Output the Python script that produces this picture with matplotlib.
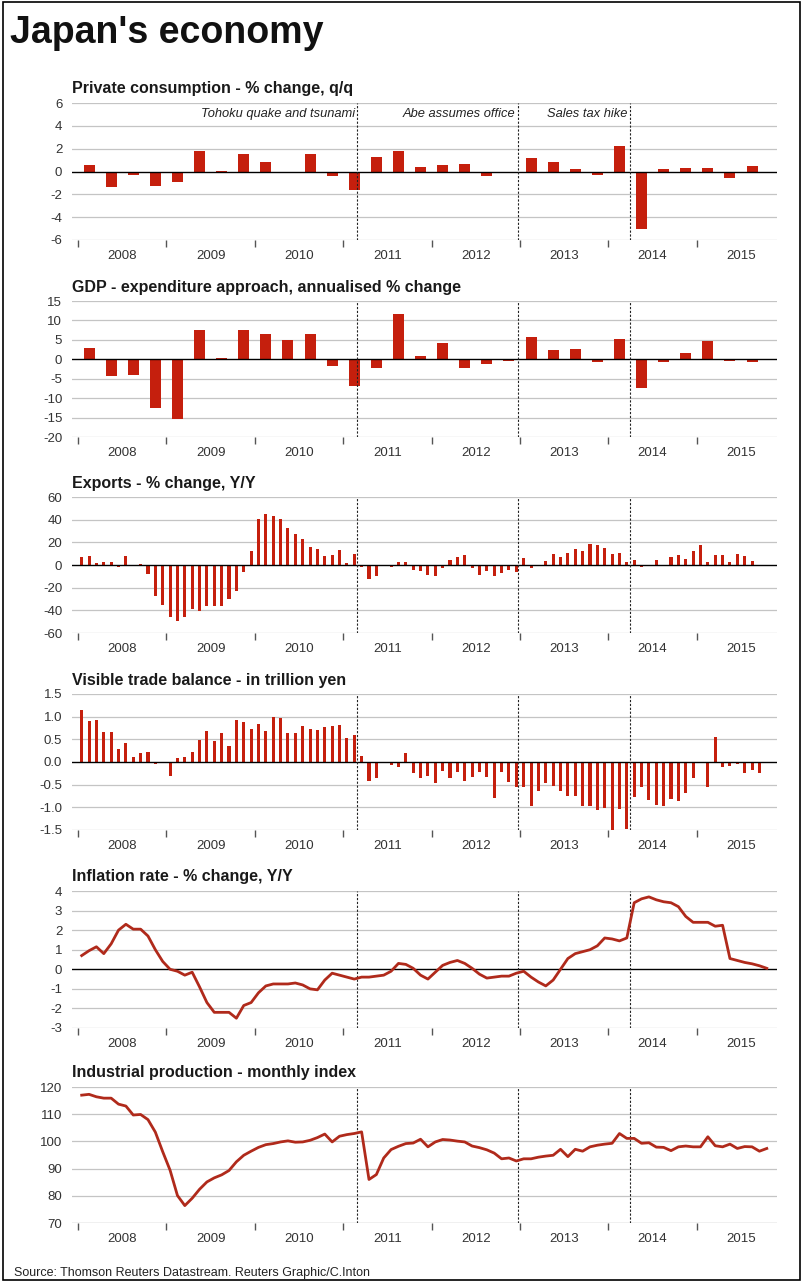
import numpy as np
import matplotlib.pyplot as plt

plt.rcParams['font.family'] = ['Liberation Sans', 'DejaVu Sans']

# quarterly series, 2008 Q1 .. 2015 Q3
consumption = [0.6, -1.4, -0.3, -1.3,
               -0.9, 1.8, 0.05, 1.5,
               0.8, 0.0, 1.5, -0.4,
               -1.6, 1.25, 1.8, 0.4,
               0.6, 0.7, -0.4, 0.0,
               1.2, 0.8, 0.25, -0.3,
               2.2, -5.0, 0.2, 0.35,
               0.35, -0.6, 0.5]
gdp = [2.8, -4.4, -4.1, -12.6,
       -15.3, 7.5, 0.3, 7.5,
       6.5, 4.9, 6.5, -1.6,
       -6.8, -2.2, 11.6, 0.8,
       4.3, -2.2, -1.2, -0.5,
       5.8, 2.3, 2.7, -0.6,
       5.2, -7.4, -0.8, 1.6,
       4.8, -0.5, -0.8]

# monthly series from Jan 2008
exports = [7, 8, 2, 3, 3, -2, 8, 0.3, 1, -8, -27, -35,
           -46, -49, -46, -39, -41, -36, -36, -36, -30, -23, -6, 12,
           41, 45, 43.5, 40.5, 32.5, 27.5, 23, 15.5, 14.5, 7.8, 9, 13,
           1.4, 9.5, -1.5, -12, -10, -0.8, -2, 3, 2.4, -4, -5.6, -9,
           -10, -2.6, 4.7, 6.8, 8.5, -2.3, -9, -5.6, -10, -7, -4, -5.8,
           6, -3, 0.3, 3.8, 9.7, 7, 11, 14, 12, 18.5, 17.4, 15,
           9.7, 10.6, 2.4, 4.7, -2, -1.2, 4, -1.3, 6.8, 9, 5.3, 12.6,
           17.4, 2.4, 8.5, 8.5, 2.4, 9.7, 8.2, 3.8]
trade_balance = [1.14, 0.9, 0.93, 0.67, 0.67, 0.29, 0.42, 0.11, 0.19, 0.21, -0.05, 0.01,
                 -0.3, 0.08, 0.11, 0.23, 0.49, 0.68, 0.46, 0.64, 0.36, 0.92, 0.89, 0.73,
                 0.84, 0.69, 0.99, 0.98, 0.65, 0.65, 0.8, 0.73, 0.71, 0.78, 0.8, 0.82,
                 0.53, 0.59, 0.14, -0.43, -0.36, -0.03, -0.07, -0.12, 0.2, -0.25, -0.36, -0.3,
                 -0.47, -0.19, -0.36, -0.23, -0.41, -0.32, -0.23, -0.34, -0.8, -0.23, -0.44, -0.56,
                 -0.56, -0.96, -0.64, -0.47, -0.54, -0.65, -0.75, -0.74, -0.96, -0.96, -1.05, -1.02,
                 -1.5, -1.03, -1.48, -0.77, -0.56, -0.83, -0.94, -0.98, -0.81, -0.86, -0.69, -0.36,
                 -0.01, -0.55, 0.55, -0.11, -0.09, -0.04, -0.24, -0.17, -0.25]
inflation = [0.7, 0.95, 1.15, 0.8, 1.3, 2.0, 2.3, 2.05, 2.05, 1.7, 1.0, 0.4,
             0.0, -0.1, -0.3, -0.15, -0.9, -1.7, -2.2, -2.2, -2.2, -2.5, -1.85, -1.7,
             -1.2, -0.85, -0.75, -0.75, -0.75, -0.7, -0.8, -1.0, -1.05, -0.55, -0.2, -0.3,
             -0.4, -0.5, -0.4, -0.4, -0.35, -0.3, -0.1, 0.3, 0.25, 0.05, -0.3, -0.5,
             -0.15, 0.2, 0.35, 0.45, 0.3, 0.05, -0.25, -0.45, -0.4, -0.35, -0.35, -0.2,
             -0.1, -0.4, -0.65, -0.85, -0.55, 0.0, 0.55, 0.8, 0.9, 1.0, 1.2, 1.6,
             1.55, 1.45, 1.6, 3.4, 3.6, 3.7, 3.55, 3.45, 3.4, 3.2, 2.7, 2.4,
             2.4, 2.4, 2.2, 2.25, 0.55, 0.45, 0.35, 0.28, 0.18, 0.05]
industrial = [117.0, 117.3, 116.4, 115.9, 115.9, 113.7, 113.0, 109.7, 109.9, 108.0, 103.4, 96.2,
              89.4, 80.1, 76.4, 79.1, 82.4, 85.1, 86.6, 87.7, 89.3, 92.5, 94.9, 96.4,
              97.8, 98.8, 99.2, 99.8, 100.2, 99.7, 99.8, 100.4, 101.4, 102.7, 99.8, 101.9,
              102.5, 102.9, 103.5, 86.0, 87.8, 93.9, 97.0, 98.2, 99.2, 99.4, 100.8, 98.0,
              99.8, 100.7, 100.5, 100.1, 99.8, 98.3, 97.7, 96.9, 95.7, 93.6, 93.9, 92.8,
              93.6, 93.6, 94.2, 94.6, 94.9, 97.1, 94.4, 97.1, 96.4, 98.0, 98.6, 99.0,
              99.3, 102.9, 101.1, 101.1, 99.3, 99.5, 97.9, 97.8, 96.6, 98.0, 98.3, 98.0,
              98.0, 101.7, 98.4, 98.0, 99.0, 97.4, 98.1, 98.0, 96.4, 97.4]

years = list(range(2008, 2016))
year_labels = [str(y) for y in years]
events = [2011.16, 2012.98, 2014.24]
event_labels = ['Tohoku quake and tsunami', 'Abe assumes office', 'Sales tax hike']

BAR_RED = '#c51f0d'
LINE_RED = '#b02a1b'
GRID = '#c4c4c4'

W, H = 809, 1285
PX_YEAR = 88.4
X0 = 2008 - 6 / PX_YEAR
X1 = 2008 + (777 - 78) / PX_YEAR

fig = plt.figure(figsize=(W / 100, H / 100), dpi=100)


def quarters(vals):
    return 2008 + (np.arange(len(vals)) + 0.5) / 4


def months(vals):
    return 2008 + (np.arange(len(vals)) + 0.5) / 12


def add_panel(top, bottom, title, ticks, ticklabels):
    ax = fig.add_axes([72 / W, 1 - bottom / H, (777 - 72) / W, (bottom - top) / H])
    ax.set_xlim(X0, X1)
    ax.set_ylim(ticks[0], ticks[-1])
    for t in ticks:
        if t != 0:
            ax.axhline(t, color=GRID, lw=0.9, zorder=1)
    ax.axhline(0, color='black', lw=1.0, zorder=3)
    for ev in events:
        ax.axvline(ev, color='#222222', lw=0.8, ls=(0, (2, 1.5)), zorder=4)

    ax.set_yticks(ticks)
    ax.set_yticklabels(ticklabels)
    ax.tick_params(axis='y', length=0, pad=7, labelsize=9.5, labelcolor='#333333')

    ax.set_xticks(years)
    ax.set_xticklabels([''] * len(years))
    ax.set_xticks([y + 0.5 for y in years], minor=True)
    ax.set_xticklabels(year_labels, minor=True)
    ax.tick_params(axis='x', which='major', direction='out', length=5, width=1,
                   color='#555555')
    ax.tick_params(axis='x', which='minor', length=0, pad=7, labelsize=9.5,
                   labelcolor='#333333')
    for s in ax.spines.values():
        s.set_visible(False)

    h = bottom - top
    ax.text(0, 1 + 14 / h, title, transform=ax.transAxes, fontsize=11.5,
            fontweight='bold', ha='left', va='center', color='#1a1a1a')
    return ax


# Private consumption
ax = add_panel(103, 240, 'Private consumption - % change, q/q',
               [-6, -4, -2, 0, 2, 4, 6], ['-6', '-4', '-2', '0', '2', '4', '6'])
ax.bar(quarters(consumption), consumption, width=0.125, color=BAR_RED, zorder=2)
for ev, lab in zip(events, event_labels):
    ax.text(ev - 0.03, 5.0, lab, ha='right', va='center', style='italic',
            fontsize=9.3, color='#222222')

# GDP
ax = add_panel(301, 437, 'GDP - expenditure approach, annualised % change',
               [-20, -15, -10, -5, 0, 5, 10, 15],
               ['-20', '-15', '-10', '-5', '0', '5', '10', '15'])
ax.bar(quarters(gdp), gdp, width=0.125, color=BAR_RED, zorder=2)

# Exports
ax = add_panel(497, 633, 'Exports - % change, Y/Y',
               [-60, -40, -20, 0, 20, 40, 60],
               ['-60', '-40', '-20', '0', '20', '40', '60'])
ax.bar(months(exports), exports, width=0.035, color=BAR_RED, zorder=2)

# Trade balance
ax = add_panel(694, 830, 'Visible trade balance - in trillion yen',
               [-1.5, -1.0, -0.5, 0, 0.5, 1.0, 1.5],
               ['-1.5', '-1.0', '-0.5', '0.0', '0.5', '1.0', '1.5'])
ax.bar(months(trade_balance), trade_balance, width=0.035, color=BAR_RED, zorder=2)

# Inflation
ax = add_panel(891, 1028, 'Inflation rate - % change, Y/Y',
               [-3, -2, -1, 0, 1, 2, 3, 4],
               ['-3', '-2', '-1', '0', '1', '2', '3', '4'])
ax.plot(months(inflation), inflation, color=LINE_RED, lw=2, zorder=5)

# Industrial production (no zero line in range)
ax = add_panel(1087, 1223, 'Industrial production - monthly index',
               [70, 80, 90, 100, 110, 120],
               ['70', '80', '90', '100', '110', '120'])
ax.axhline(70, color=GRID, lw=0.9, zorder=1)
ax.plot(months(industrial), industrial, color=LINE_RED, lw=2, zorder=5)

fig.text(10 / W, 1 - 33 / H, "Japan's economy", fontsize=27, fontweight='bold',
         ha='left', va='center', color='#111111')
fig.text(14 / W, 1 - 1273 / H,
         'Source: Thomson Reuters Datastream. Reuters Graphic/C.Inton',
         fontsize=9, ha='left', va='center', color='#222222')

fig.add_artist(plt.Rectangle((3 / W, 5 / H), 797 / W, 1278 / H, fill=False,
                             lw=1.2, ec='black', transform=fig.transFigure))

fig.savefig('out.png', dpi=100)
